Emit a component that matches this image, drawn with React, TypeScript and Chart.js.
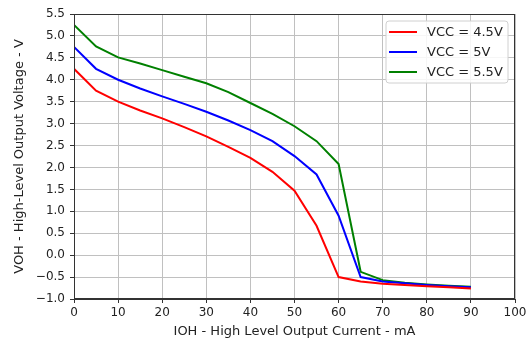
import React, { useEffect, useRef } from "react";
import { Chart, registerables } from "chart.js";

Chart.register(...registerables);

const currents = [0, 5, 10, 15, 20, 25, 30, 35, 40, 45, 50, 55, 60, 65, 70, 75, 80, 85, 90];
const vcc45 = [4.25, 3.75, 3.5, 3.3, 3.12, 2.92, 2.71, 2.47, 2.22, 1.9, 1.47, 0.67, -0.5, -0.6, -0.65, -0.68, -0.71, -0.73, -0.76];
const vcc5 = [4.75, 4.25, 4.0, 3.8, 3.62, 3.45, 3.27, 3.07, 2.85, 2.6, 2.26, 1.84, 0.9, -0.5, -0.6, -0.64, -0.68, -0.71, -0.73];
const vcc55 = [5.25, 4.76, 4.51, 4.37, 4.22, 4.07, 3.92, 3.72, 3.47, 3.22, 2.94, 2.6, 2.08, -0.38, -0.57, -0.63, -0.67, -0.7, -0.72];
const seriesLabels = ["VCC = 4.5V", "VCC = 5V", "VCC = 5.5V"];
const seriesColors = ["#ff0000", "#0000ff", "#008000"];
const xTitle = "IOH - High Level Output Current - mA";
const yTitle = "VOH - High-Level Output Voltage - V";

const FONT = "'DejaVu Sans', sans-serif";

const framePlugin = {
  id: "frame",
  afterDatasetsDraw(chart: any) {
    const { ctx, chartArea } = chart;
    ctx.save();
    ctx.strokeStyle = "#333333";
    ctx.lineWidth = 1;
    ctx.strokeRect(chartArea.left + 0.5, chartArea.top + 0.5, chartArea.right - chartArea.left - 1, chartArea.bottom - chartArea.top - 1);
    ctx.restore();
  },
};

const legendPlugin = {
  id: "boxLegend",
  afterDraw(chart: any) {
    const { ctx, chartArea } = chart;
    const w = 122;
    const h = 62;
    const x0 = chartArea.right - 7 - w;
    const y0 = chartArea.top + 7;
    ctx.save();
    ctx.beginPath();
    const r = 3;
    ctx.moveTo(x0 + r, y0);
    ctx.lineTo(x0 + w - r, y0);
    ctx.quadraticCurveTo(x0 + w, y0, x0 + w, y0 + r);
    ctx.lineTo(x0 + w, y0 + h - r);
    ctx.quadraticCurveTo(x0 + w, y0 + h, x0 + w - r, y0 + h);
    ctx.lineTo(x0 + r, y0 + h);
    ctx.quadraticCurveTo(x0, y0 + h, x0, y0 + h - r);
    ctx.lineTo(x0, y0 + r);
    ctx.quadraticCurveTo(x0, y0, x0 + r, y0);
    ctx.closePath();
    ctx.fillStyle = "rgba(255,255,255,0.85)";
    ctx.fill();
    ctx.strokeStyle = "#d0d0d0";
    ctx.lineWidth = 1;
    ctx.stroke();
    chart.data.datasets.forEach((ds: any, i: number) => {
      const yy = y0 + 11 + i * 20;
      ctx.strokeStyle = ds.borderColor;
      ctx.lineWidth = 2;
      ctx.beginPath();
      ctx.moveTo(x0 + 3, yy);
      ctx.lineTo(x0 + 31, yy);
      ctx.stroke();
      ctx.fillStyle = "#222222";
      ctx.font = `13px ${FONT}`;
      ctx.textBaseline = "middle";
      ctx.textAlign = "left";
      ctx.fillText(ds.label, x0 + 41, yy + 1);
    });
    ctx.restore();
  },
};

export default function App() {
  const ref = useRef<HTMLCanvasElement>(null);
  useEffect(() => {
    if (!ref.current) return;
    const series = [vcc45, vcc5, vcc55];
    const chart = new Chart(ref.current, {
      type: "line",
      data: {
        datasets: series.map((s, i) => ({
          label: seriesLabels[i],
          data: currents.map((c, j) => ({ x: c, y: s[j] })),
          borderColor: seriesColors[i],
          backgroundColor: seriesColors[i],
          borderWidth: 2,
          pointRadius: 0,
          tension: 0,
          fill: false,
        })),
      },
      options: {
        animation: false,
        responsive: false,
        layout: { padding: { top: 14, right: 16, left: 0, bottom: 0 } },
        plugins: {
          legend: { display: false },
          tooltip: { enabled: false },
        },
        scales: {
          x: {
            type: "linear",
            min: 0,
            max: 100,
            ticks: {
              stepSize: 10,
              color: "#222222",
              font: { family: FONT, size: 12 },
              padding: 3,
              maxRotation: 0,
            },
            grid: { color: "#c0c0c0", lineWidth: 1, tickColor: "#333333", tickLength: 4 },
            border: { color: "#333333", width: 1 },
            title: {
              display: true,
              text: xTitle,
              color: "#222222",
              font: { family: FONT, size: 13 },
              padding: { top: 0, bottom: 3 },
            },
            afterFit: (scale: any) => {
              scale.height = 43;
            },
          },
          y: {
            type: "linear",
            min: -1,
            max: 5.5,
            ticks: {
              stepSize: 0.5,
              color: "#222222",
              font: { family: FONT, size: 12 },
              padding: 5,
              callback: (v: any) => Number(v).toFixed(1).replace("-", "\u2212"),
            },
            grid: { color: "#c0c0c0", lineWidth: 1, tickColor: "#333333", tickLength: 4 },
            border: { color: "#333333", width: 1 },
            title: {
              display: true,
              text: yTitle,
              color: "#222222",
              font: { family: FONT, size: 13 },
              padding: { top: 12, bottom: 0 },
            },
            afterFit: (scale: any) => {
              scale.width = 74;
            },
          },
        },
      },
      plugins: [framePlugin, legendPlugin],
    });
    return () => chart.destroy();
  }, []);
  return (
    <div style={{ position: "absolute", left: 0, top: 0, width: 531, height: 342, background: "#fff" }}>
      <canvas ref={ref} width={531} height={342} style={{ width: 531, height: 342 }} />
    </div>
  );
}
